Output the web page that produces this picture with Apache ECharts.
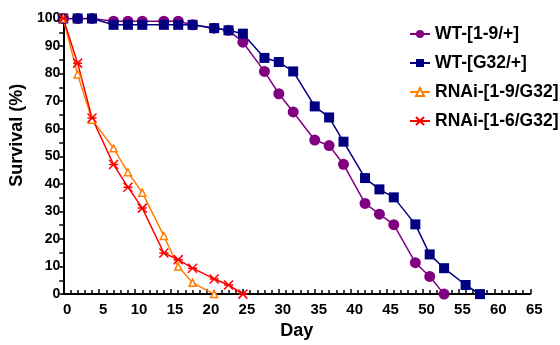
<!DOCTYPE html>
<html>
<head>
<meta charset="utf-8">
<script src="https://cdn.jsdelivr.net/npm/echarts@6/dist/echarts.min.js"></script>
<style>html,body{margin:0;padding:0;background:#fff}#c{width:560px;height:345px}</style>
</head>
<body>
<div id="c"></div>
<script>
var days = [0,2,4,7,9,11,14,16,18,21,23,25,28,30,32,35,37,39,42,44,46,49,51,53,56,58];
var wt19 = [100,100,100,99,99,99,99,99,97.7,96.5,95.7,91.4,80.8,72.7,66.1,55.9,53.9,47.1,32.9,29.0,25.2,11.4,6.4,0];
var wtG32 = [100,100,100,97.7,97.7,97.7,97.7,97.7,97.7,96.5,95.7,94.5,85.7,84.2,80.8,68.1,64.1,55.3,42.1,38.0,35.1,25.3,14.4,9.4,3.3,0];
var rnai19 = [100,79.7,63.3,52.9,44.2,36.8,21.1,10.0,4.1,0];
var rnai16 = [100,83.8,63.9,47.0,38.8,31.2,14.9,12.5,9.4,5.5,3.3,0];
var names = ['WT-[1-9/+]','WT-[G32/+]','RNAi-[1-9/G32]','RNAi-[1-6/G32]'];
var xTicks = {min:0, max:65, interval:5};
var yTicks = {min:0, max:100, interval:10};

function pairs(v){ return v.map(function(y,i){ return [days[i], y]; }); }
var FONT = '"Liberation Sans", Arial, sans-serif';
var xMark = 'path://M0,0L10,10M10,0L0,10M0,5L10,5';
var chart = echarts.init(document.getElementById('c'));
chart.setOption({
  animation:false,
  grid:{left:54.5, right:29.7, top:18.5, bottom:43.5},
  legend:{
    orient:'vertical', left:409, top:25, padding:0, itemGap:11, itemWidth:20, itemHeight:10,
    textStyle:{fontFamily:FONT, fontWeight:'bold', fontSize:17.5, color:'#000'},
    data:names
  },
  xAxis:{
    type:'value', min:xTicks.min, max:xTicks.max, interval:xTicks.interval,
    name:'Day', nameLocation:'middle', nameGap:24,
    nameTextStyle:{fontFamily:FONT, fontWeight:'bold', fontSize:18, color:'#000'},
    axisLine:{lineStyle:{color:'#000', width:2}},
    axisTick:{inside:true, length:5, lineStyle:{color:'#000', width:1.5}},
    minorTick:{show:true, splitNumber:5, length:4, lineStyle:{color:'#000', width:1.5}},
    splitLine:{show:false},
    axisLabel:{fontFamily:FONT, fontWeight:'bold', fontSize:15, color:'#000', margin:8, padding:[0,0,0,8]}
  },
  yAxis:{
    type:'value', min:yTicks.min, max:yTicks.max, interval:yTicks.interval,
    name:'Survival (%)', nameLocation:'middle', nameGap:30,
    nameTextStyle:{fontFamily:FONT, fontWeight:'bold', fontSize:18, color:'#000', padding:[0,0,0,42]},
    axisLine:{show:true, lineStyle:{color:'#000', width:2}},
    axisTick:{length:4, lineStyle:{color:'#000', width:1.5}},
    minorTick:{show:true, splitNumber:2, length:4, lineStyle:{color:'#000', width:1.5}},
    splitLine:{show:false},
    axisLabel:{fontFamily:FONT, fontWeight:'bold', fontSize:14, color:'#000', margin:3, padding:[8,0,0,0]}
  },
  series:[
    {name:names[0], type:'line', data:pairs(wt19), symbol:'circle', symbolSize:11,
     lineStyle:{color:'#800080', width:1.5}, itemStyle:{color:'#800080'}},
    {name:names[1], type:'line', data:pairs(wtG32), symbol:'rect', symbolSize:10,
     lineStyle:{color:'#000080', width:1.5}, itemStyle:{color:'#000080'}},
    {name:names[2], type:'line', data:pairs(rnai19), symbol:'triangle', symbolSize:7,
     lineStyle:{color:'#FF7F00', width:1.5}, itemStyle:{color:'#fff', borderColor:'#FF7F00', borderWidth:1.5}},
    {name:names[3], type:'line', data:pairs(rnai16), symbol:xMark, symbolSize:9,
     lineStyle:{color:'#FF0000', width:1.5}, itemStyle:{color:'none', borderColor:'#FF0000', borderWidth:1.5}}
  ]
});
</script>
</body>
</html>
